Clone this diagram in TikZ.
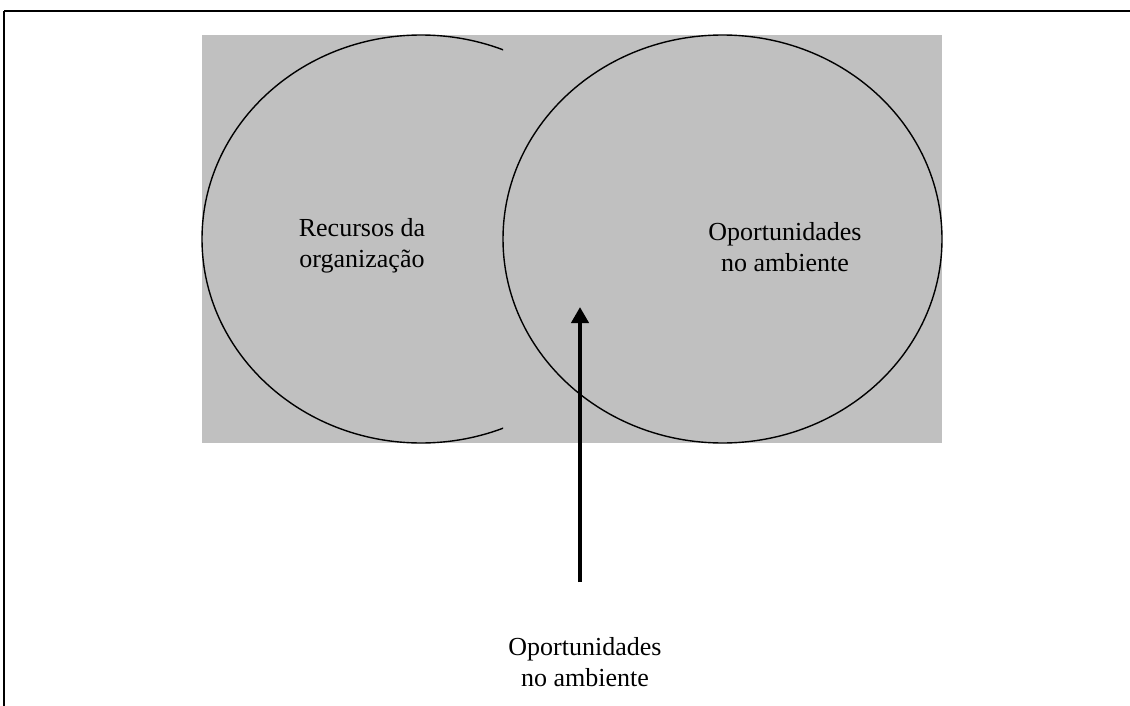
\documentclass[tikz,border=0pt]{standalone}
\usepackage{fontspec}
\setmainfont{Liberation Serif}
\usetikzlibrary{arrows.meta}
\definecolor{panel}{RGB}{192,192,192}
\begin{document}
\begin{tikzpicture}[x=1pt,y=-1pt,
  label text/.style={align=center,font=\fontsize{26}{31.5}\selectfont,inner sep=0pt},
  ring/.style={draw=black,line width=1.4pt},
  frame line/.style={draw=black,line width=2pt},
  pointer/.style={draw=black,line width=4pt,-{Triangle[length=16pt,width=17pt]}}]
  \useasboundingbox (0,0) rectangle (1130,706);
  % outer frame (top and left sides)
  \draw[frame line] (4,11) -- (1130,11);
  \draw[draw=black,line width=1.5pt] (4,11) -- (4,706);
  % grey panel
  \fill[panel] (202,35) rectangle (942,443);
  % resources ellipse, cut off where the panel is split
  \begin{scope}
    \clip (150,20) rectangle (503,460);
    \draw[ring] (421,239) ellipse [x radius=219, y radius=204];
  \end{scope}
  % opportunities ellipse
  \draw[ring] (722.5,239) ellipse [x radius=219.5, y radius=204];
  % labels
  \node[label text] (rec) at (362,246) {Recursos da\\organização};
  \node[label text] (opp) at (785,247) {Oportunidades\\no ambiente};
  \node[label text] (amb) at (585,662) {Oportunidades\\no ambiente};
  % arrow from the outside label into the overlap
  \coordinate (tail) at (580,582);
  \coordinate (tip) at (580,307);
  \draw[pointer] (tail) -- (tip);
\end{tikzpicture}
\end{document}
